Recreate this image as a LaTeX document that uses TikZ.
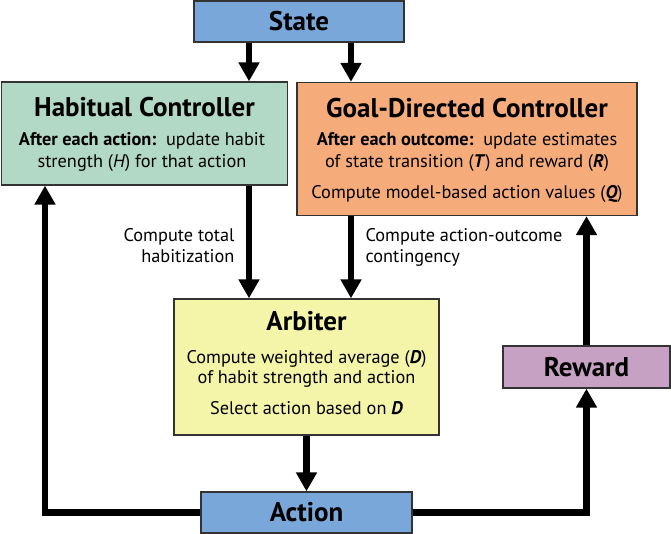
\documentclass[tikz,border=0pt]{standalone}
\usepackage{fontspec}
\setmainfont{PT Sans}
\usetikzlibrary{arrows.meta}
\definecolor{bluebox}{RGB}{122,167,217}
\definecolor{greenbox}{RGB}{178,216,198}
\definecolor{orangebox}{RGB}{246,172,122}
\definecolor{yellowbox}{RGB}{245,245,170}
\definecolor{purplebox}{RGB}{198,161,196}
\begin{document}
\begin{tikzpicture}[x=1pt,y=-1pt,
  box/.style={draw=black!80, line width=1.3pt, inner sep=0pt},
  arr/.style={line width=6.5pt, -{Triangle[width=20pt,length=19pt]}},
  ttl/.style={font=\fontsize{27}{30}\selectfont\bfseries, anchor=base},
  lbl/.style={font=\fontsize{27}{30}\selectfont\bfseries},
  body/.style={font=\fontsize{18.3}{20}\selectfont, anchor=base},
  side/.style={font=\fontsize{18.3}{20.5}\selectfont, align=left}]
\useasboundingbox (0,0) rectangle (671,534);
% boxes
\node[box, fill=bluebox, minimum width=210pt, minimum height=41pt] (state) at (299,21.5) {};
\node[box, fill=greenbox, minimum width=286pt, minimum height=103pt] (hab) at (144.5,133.5) {};
\node[box, fill=orangebox, minimum width=340pt, minimum height=133pt] (goal) at (467,149) {};
\node[box, fill=yellowbox, minimum width=265pt, minimum height=136pt] (arb) at (306.5,367) {};
\node[box, fill=purplebox, minimum width=167pt, minimum height=42pt] (rew) at (586.5,367) {};
\node[box, fill=bluebox, minimum width=211pt, minimum height=41pt] (act) at (306.5,512.5) {};
% box texts
\node[lbl] (statet) at (state.center) {State};
\node[lbl] (actt) at (act.center) {Action};
\node[lbl] (rewt) at (rew.center) {Reward};
\node[ttl] (habt) at (144.5,117) {Habitual Controller};
\node[body] (hab1) at (142,146) {\textbf{After each action:}\ \ update habit};
\node[body] (hab2) at (142,168) {strength (\textit{H}) for that action};
\node[ttl] (goalt) at (467,118) {Goal-Directed Controller};
\node[body] (goal1) at (467,146) {\textbf{After each outcome:}\ \ update estimates};
\node[body] (goal2) at (467,168) {of state transition (\textbf{\textit{T}}) and reward (\textbf{\textit{R}})};
\node[body] (goal3) at (467,199) {Compute model-based action values (\textbf{\textit{Q}})};
\node[ttl] (arbt) at (306.5,330) {Arbiter};
\node[body] (arb1) at (306.5,363) {Compute weighted average (\textbf{\textit{D}})};
\node[body] (arb2) at (306.5,383) {of habit strength and action};
\node[body] (arb3) at (306.5,414) {Select action based on \textbf{\textit{D}}};
% side labels
\node[side, align=right, anchor=base east] (lh) at (238,262) {Compute total\\habitization};
\node[side, anchor=base west] (lg) at (362,262) {Compute action-outcome\\contingency};
% coordinates
\coordinate (xh) at (249,0);
\coordinate (xg) at (351,0);
\coordinate (xl) at (45,0);
\coordinate (xr) at (586.5,0);
% arrows
\draw[arr] (xh |- state.south) -- (xh |- hab.north);
\draw[arr] (xg |- state.south) -- (xg |- goal.north);
\draw[arr] (xh |- hab.south) -- (xh |- arb.north);
\draw[arr] (xg |- goal.south) -- (xg |- arb.north);
\draw[arr] (arb.south) -- (act.north);
\draw[arr] (act.west) -- (xl |- act.west) -- (xl |- hab.south);
\draw[arr] (act.east) -- (xr |- act.east) -- (rew.south);
\draw[arr] (rew.north) -- (xr |- goal.south);
\end{tikzpicture}
\end{document}
